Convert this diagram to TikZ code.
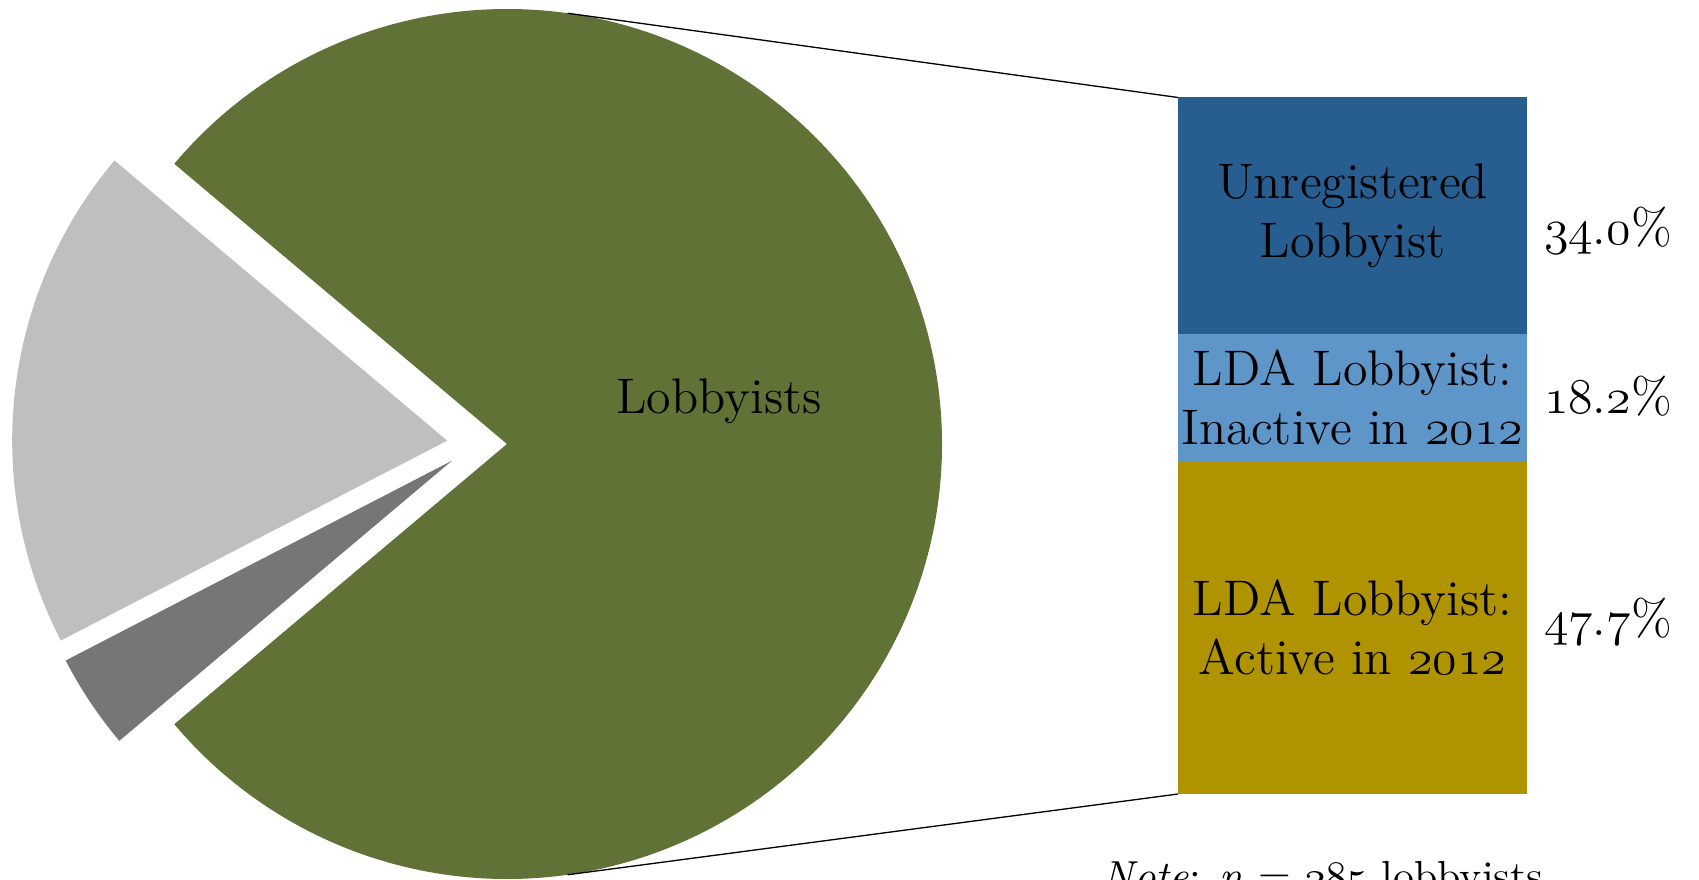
\RequirePackage{fix-cm}
\documentclass[tikz,border=0pt]{standalone}
\usetikzlibrary{calc}
\definecolor{pieGreen}{RGB}{97,114,54}
\definecolor{pieLight}{RGB}{191,191,191}
\definecolor{pieDark}{RGB}{118,118,118}
\definecolor{barBlue}{RGB}{40,94,143}
\definecolor{barLight}{RGB}{95,150,201}
\definecolor{barGold}{RGB}{176,147,0}
\newcommand\osn[1]{{\usefont{OML}{cmm}{m}{it}#1}}
\begin{document}
\begin{tikzpicture}[x=0.25pt,y=0.25pt,
  lbl/.style={font=\fontsize{12.5pt}{14.6pt}\selectfont, inner sep=0pt, outer sep=0pt},
  seg/.style={lbl, minimum width=87.25pt, align=center},
  conn/.style={draw=black, line width=0.33pt},
  notetext/.style={font=\fontsize{10.5pt}{12.6pt}\selectfont, inner sep=0pt}]
\useasboundingbox (0,0) rectangle (1699,879);
% pie
\coordinate (O) at (477,435);
\coordinate (G) at ($(O)+(0:30)$);
\coordinate (Lt) at ($(O)+(173.625:30)$);
\coordinate (Dk) at ($(O)+(213.725:30)$);
\fill[pieGreen] (G) -- ++(139.9:435) arc[start angle=139.9, end angle=-139.9, radius=435] -- cycle;
\fill[pieLight] (Lt) -- ++(139.9:435) arc[start angle=139.9, end angle=207.35, radius=435] -- cycle;
\fill[pieDark] (Dk) -- ++(207.35:435) arc[start angle=207.35, end angle=220.1, radius=435] -- cycle;
\node[lbl, anchor=base] (lob) at (719,466) {Lobbyists};
% bar
\node[seg, fill=barBlue, minimum height=59.125pt] (unreg) at (1352.5,663.25) {Unregistered\\Lobbyist};
\node[seg, fill=barLight, minimum height=31.625pt] (inact) at (1352.5,481.75) {LDA Lobbyist:\\Inactive in \osn{2012}};
\node[seg, fill=barGold, minimum height=83.375pt] (active) at (1352.5,251.75) {LDA Lobbyist:\\Active in \osn{2012}};
% connectors
\coordinate (ptop) at ($(G)+(82:435)$);
\coordinate (pbot) at ($(G)+(-82:435)$);
\draw[conn] (ptop) -- (unreg.north west);
\draw[conn] (pbot) -- (active.south west);
% percentages
\node[lbl, anchor=base west] (p1) at (1544,634) {\osn{34}.\osn{0}\%};
\node[lbl, anchor=base west] (p2) at (1544,466) {\osn{18}.\osn{2}\%};
\node[lbl, anchor=base west] (p3) at (1544,244) {\osn{47}.\osn{7}\%};
% note (clipped at bottom, as in the reference)
\node[notetext, anchor=base west] (note) at (1102,-11) {\textit{Note}: \textit{n} = \osn{285} lobbyists};
\end{tikzpicture}
\end{document}
